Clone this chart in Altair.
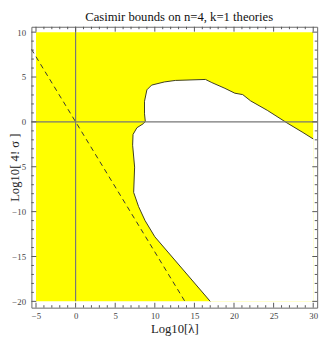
import altair as alt
import pandas as pd

# ---- data ----
curve_x = [17.0, 10.0, 8.77, 7.95, 7.33, 7.45, 7.2, 7.25, 7.74, 8.57, 8.8, 8.7, 8.7, 9.0, 9.6,
           11.2, 12.6, 16.4, 17.2, 18.85, 20.1, 21.1, 22.1, 24.2, 26.7, 28.7, 30.0]
curve_y = [-20.0, -12.8, -11.0, -9.44, -7.86, -5.04, -2.6, -1.4, -0.65, -0.19, 0.05, 0.9, 2.3, 3.57, 4.1,
           4.45, 4.62, 4.73, 4.38, 3.74, 3.2, 3.04, 2.34, 1.29, -0.12, -1.18, -1.9]
corner_x = [30.0, 17.0]
corner_y = [-20.0, -20.0]

dash_x = [-5.58, 13.8]
dash_y = [8.1, -20.0]

region_x = [-5.0, 30.0]
region_y = [-20.0, 10.0]

x_major = [-5, 0, 5, 10, 15, 20, 25, 30]
y_major = [-20, -15, -10, -5, 0, 5, 10]
x_minor = [v for v in range(-5, 31) if v % 5 != 0]
y_minor = [v for v in range(-20, 11) if v % 5 != 0]

x_dom = [-5.58, 30.5]
y_dom = [-20.7, 10.6]

W, H = 293, 288
SERIF = "Liberation Serif"

xs = alt.Scale(domain=x_dom, nice=False, zero=False)
ys = alt.Scale(domain=y_dom, nice=False, zero=False)

X = alt.X("x:Q", scale=xs, title="Log10[λ]",
          axis=alt.Axis(values=x_major, ticks=False, domain=False, grid=False,
                        labelFont=SERIF, labelFontSize=9, labelColor="#444",
                        labelPadding=4, titleFont=SERIF, titleFontSize=13,
                        titleFontWeight="normal", titlePadding=2, titleColor="#222"))
Y = alt.Y("y:Q", scale=ys, title="Log10[ 4! σ ]",
          axis=alt.Axis(values=y_major, ticks=False, domain=False, grid=False,
                        labelFont=SERIF, labelFontSize=9, labelColor="#444",
                        labelPadding=6, titleFont=SERIF, titleFontSize=13,
                        titleFontWeight="normal", titleColor="#222",
                        titleX=-17, titleY=H / 2, titleAngle=270,
                        titleAlign="center", titleBaseline="middle"))

rect_df = pd.DataFrame({"x": [region_x[0]], "x2": [region_x[1]],
                        "y": [region_y[0]], "y2": [region_y[1]]})
bg = alt.Chart(rect_df).mark_rect(color="#ffff00").encode(
    x=X, x2="x2:Q", y=Y, y2="y2:Q")

poly_df = pd.DataFrame({"x": curve_x + corner_x, "y": curve_y + corner_y,
                        "o": list(range(len(curve_x) + len(corner_x)))})
white = alt.Chart(poly_df).mark_line(fill="white", strokeWidth=0, interpolate="linear-closed").encode(
    x=X, y=Y, order="o:Q")

curve_df = pd.DataFrame({"x": curve_x, "y": curve_y, "o": list(range(len(curve_x)))})
curve = alt.Chart(curve_df).mark_line(color="#3b3b1e", strokeWidth=1).encode(
    x=X, y=Y, order="o:Q")

dash_df = pd.DataFrame({"x": dash_x, "y": dash_y})
dashed = alt.Chart(dash_df).mark_line(color="#333", strokeWidth=1, strokeDash=[5, 4], clip=True).encode(
    x=X, y=Y)

vaxis = alt.Chart(pd.DataFrame({"x": [0], "y": [-20.0], "y2": [y_dom[1]]})).mark_rule(
    color="#777", strokeWidth=1.2).encode(x=X, y=Y, y2="y2:Q")
haxis = alt.Chart(pd.DataFrame({"y": [0], "x": [x_dom[0]], "x2": [x_dom[1]]})).mark_rule(
    color="#777", strokeWidth=1.2).encode(y=Y, x=X, x2="x2:Q")


def xticks(vals, L):
    d = pd.DataFrame({"x": vals})
    b = alt.Chart(d).mark_rule(color="#555").encode(x=X, y=alt.value(H), y2=alt.value(H - L))
    t = alt.Chart(d).mark_rule(color="#555").encode(x=X, y=alt.value(0), y2=alt.value(L))
    return [b, t]


def yticks(vals, L):
    d = pd.DataFrame({"y": vals})
    l = alt.Chart(d).mark_rule(color="#555").encode(y=Y, x=alt.value(0), x2=alt.value(L))
    r = alt.Chart(d).mark_rule(color="#555").encode(y=Y, x=alt.value(W), x2=alt.value(W - L))
    return [l, r]


layers = [bg, white, curve, dashed, vaxis, haxis]
layers += xticks(x_major, 5) + xticks(x_minor, 2.5) + yticks(y_major, 5) + yticks(y_minor, 2.5)

chart = alt.layer(*layers).properties(
    width=W, height=H,
    title=alt.TitleParams("Casimir bounds on n=4, k=1 theories", font=SERIF, fontSize=13,
                          fontWeight="normal", offset=2, dx=5, anchor="middle", color="#111"),
    autosize=alt.AutoSizeParams(type="none"),
    padding={"left": 24, "top": 15, "right": 7, "bottom": 32},
).configure_view(stroke="#666", strokeWidth=1)

chart.save("out.html", embed_options={"renderer": "svg", "actions": False})
